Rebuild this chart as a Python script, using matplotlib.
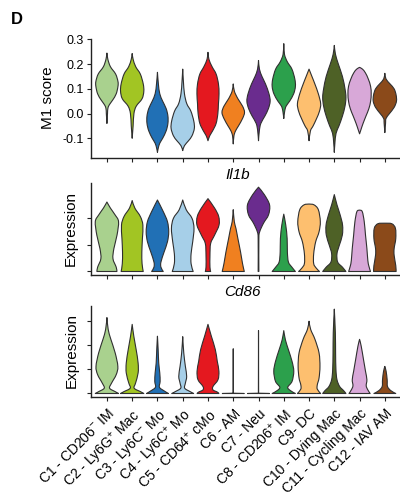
import numpy as np
import matplotlib
matplotlib.use("Agg")
import matplotlib.pyplot as plt
from matplotlib.path import Path
from matplotlib.patches import PathPatch

plt.rcParams['font.family'] = ['Liberation Sans', 'DejaVu Sans']
plt.rcParams['mathtext.fontset'] = 'custom'
plt.rcParams['mathtext.rm'] = 'Liberation Sans'
plt.rcParams['mathtext.it'] = 'Liberation Sans:italic'
plt.rcParams['axes.unicode_minus'] = False

# ---------------- data ----------------
cluster_labels = [r"C1 - CD206$^{-}$ IM", r"C2 - Ly6G$^{+}$ Mac", r"C3 - Ly6C$^{-}$ Mo",
                  r"C4 - Ly6C$^{+}$ Mo", r"C5 - CD64$^{+}$ cMo", "C6 - AM", "C7 - Neu",
                  r"C8 - CD206$^{+}$ IM", "C9- DC", "C10 - Dying Mac",
                  "C11 - Cycling Mac", "C12 - IAV AM"]
cluster_colors = ['#a9d18e', '#a2c523', '#2170b5', '#a6cfe8', '#e4181f', '#f08020',
                  '#6a2c8e', '#2ca04c', '#fdbf6f', '#4e6126', '#d8a8d8', '#8b4a1a']

m1_ticks = [-0.1, 0.0, 0.1, 0.2, 0.3]

# violin profiles: (value, relative density)
m1_profiles = [
    [(0.245, 0), (0.22, 0.08), (0.19, 0.3), (0.16, 0.75), (0.13, 0.95), (0.11, 0.95), (0.08, 0.8), (0.055, 0.5), (0.035, 0.2), (0.02, 0.08), (0.0, 0.05), (-0.04, 0)],
    [(0.243, 0), (0.22, 0.08), (0.19, 0.3), (0.16, 0.7), (0.12, 0.95), (0.09, 1.0), (0.06, 0.85), (0.03, 0.35), (0.0, 0.15), (-0.05, 0.08), (-0.1, 0)],
    [(0.167, 0), (0.12, 0.08), (0.08, 0.2), (0.05, 0.45), (0.02, 0.75), (-0.01, 0.9), (-0.04, 0.9), (-0.07, 0.75), (-0.10, 0.45), (-0.12, 0.2), (-0.14, 0.07), (-0.157, 0)],
    [(0.18, 0), (0.13, 0.06), (0.08, 0.15), (0.04, 0.35), (0.01, 0.7), (-0.03, 0.95), (-0.06, 1.0), (-0.09, 0.8), (-0.11, 0.5), (-0.13, 0.15), (-0.15, 0)],
    [(0.248, 0), (0.22, 0.08), (0.19, 0.35), (0.16, 0.7), (0.12, 0.9), (0.08, 0.95), (0.04, 0.9), (0.0, 0.85), (-0.04, 0.7), (-0.07, 0.4), (-0.09, 0.15), (-0.11, 0)],
    [(0.12, 0), (0.09, 0.1), (0.06, 0.4), (0.03, 0.8), (0.005, 0.97), (-0.02, 0.8), (-0.05, 0.45), (-0.07, 0.2), (-0.09, 0.06), (-0.123, 0)],
    [(0.215, 0), (0.18, 0.08), (0.15, 0.3), (0.12, 0.6), (0.08, 0.9), (0.05, 1.0), (0.02, 0.85), (-0.01, 0.55), (-0.04, 0.2), (-0.07, 0.07), (-0.11, 0)],
    [(0.283, 0), (0.24, 0.06), (0.21, 0.3), (0.18, 0.7), (0.14, 0.95), (0.11, 1.0), (0.08, 0.85), (0.05, 0.5), (0.03, 0.2), (0.01, 0.08), (-0.02, 0)],
    [(0.18, 0), (0.15, 0.25), (0.12, 0.5), (0.08, 0.8), (0.04, 1.0), (0.01, 0.9), (-0.02, 0.65), (-0.05, 0.35), (-0.07, 0.12), (-0.11, 0)],
    [(0.276, 0), (0.24, 0.1), (0.20, 0.35), (0.15, 0.7), (0.10, 0.92), (0.065, 1.0), (0.03, 0.92), (-0.01, 0.7), (-0.05, 0.4), (-0.08, 0.15), (-0.12, 0.05), (-0.157, 0)],
    [(0.187, 0), (0.18, 0.25), (0.165, 0.5), (0.14, 0.75), (0.11, 0.95), (0.08, 1.0), (0.05, 0.95), (0.02, 0.8), (-0.01, 0.55), (-0.04, 0.3), (-0.065, 0.12), (-0.082, 0)],
    [(0.163, 0), (0.14, 0.1), (0.12, 0.45), (0.10, 0.8), (0.075, 0.97), (0.05, 1.0), (0.025, 0.8), (0.0, 0.4), (-0.02, 0.1), (-0.04, 0.06), (-0.077, 0)],
]

il1b_profiles = [
    [(2.575, 0), (2.35, 0.3), (2.1, 0.7), (1.85, 1.0), (1.35, 0.87), (0.85, 0.6), (0.475, 0.52), (0.16, 0.8), (0.0, 0.86)],
    [(2.63, 0), (2.35, 0.23), (2.04, 0.7), (1.72, 0.92), (1.22, 0.88), (0.72, 0.83), (0.29, 0.85), (0.0, 0.95)],
    [(2.65, 0), (2.22, 0.5), (1.85, 0.86), (1.47, 0.97), (1.1, 0.86), (0.72, 0.57), (0.35, 0.3), (0.16, 0.3), (0.0, 0.5)],
    [(2.65, 0), (2.29, 0.3), (1.97, 0.8), (1.6, 0.97), (1.1, 0.86), (0.66, 0.72), (0.29, 0.72), (0.0, 0.9)],
    [(2.7, 0), (2.35, 0.57), (2.04, 0.92), (1.72, 0.95), (1.35, 0.57), (1.04, 0.23), (0.6, 0.17), (0.16, 0.17), (0.0, 0.23)],
    [(2.29, 0), (1.85, 0.09), (1.6, 0.23), (1.22, 0.4), (0.72, 0.63), (0.29, 0.8), (0.0, 0.95)],
    [(3.125, 0), (2.85, 0.5), (2.47, 0.95), (2.1, 0.86), (1.79, 0.43), (1.47, 0.1), (1.2, 0.03), (0.0, 0.03)],
    [(2.125, 0), (1.72, 0.17), (1.22, 0.29), (0.72, 0.31), (0.35, 0.4), (0.16, 0.7), (0.0, 1.0)],
    [(2.5, 0), (2.47, 0.43), (2.29, 0.8), (1.85, 0.97), (1.47, 0.86), (1.1, 0.57), (0.66, 0.4), (0.29, 0.4), (0.12, 0.63), (0.0, 0.9)],
    [(2.85, 0), (2.47, 0.23), (2.1, 0.5), (1.72, 0.71), (1.35, 0.69), (0.97, 0.43), (0.66, 0.23), (0.35, 0.29), (0.16, 0.7), (0.0, 1.0)],
    [(2.275, 0), (2.22, 0.23), (1.85, 0.4), (1.35, 0.51), (0.85, 0.63), (0.41, 0.71), (0.2, 0.8), (0.0, 0.94)],
    [(1.79, 0), (1.77, 0.6), (1.6, 0.91), (1.22, 0.94), (0.85, 0.8), (0.6, 0.8), (0.22, 0.94), (0.0, 0.97)],
]

cd86_profiles = [
    [(3.14, 0), (2.65, 0.11), (2.24, 0.34), (1.68, 0.71), (1.12, 0.94), (0.78, 0.8), (0.43, 0.4), (0.22, 0.23), (0.08, 0.7), (0.0, 1.0)],
    [(2.86, 0), (2.37, 0.14), (1.82, 0.34), (1.26, 0.51), (0.85, 0.51), (0.43, 0.29), (0.22, 0.17), (0.08, 0.7), (0.0, 1.0)],
    [(2.37, 0), (1.82, 0.06), (1.26, 0.11), (0.85, 0.2), (0.5, 0.23), (0.26, 0.17), (0.11, 0.57), (0.0, 0.94)],
    [(2.35, 0), (1.68, 0.09), (1.12, 0.23), (0.71, 0.34), (0.43, 0.23), (0.22, 0.17), (0.08, 0.63), (0.0, 0.94)],
    [(2.86, 0), (2.37, 0.29), (1.82, 0.63), (1.33, 0.8), (0.92, 0.94), (0.57, 0.86), (0.29, 0.43), (0.15, 0.43), (0.06, 0.8), (0.0, 0.94)],
    [(1.85, 0), (0.01, 0.01), (0.0, 0.94)],
    [(2.6, 0), (0.01, 0.01), (0.0, 0.94)],
    [(2.6, 0), (2.22, 0.14), (1.81, 0.4), (1.33, 0.71), (0.92, 0.86), (0.5, 0.71), (0.26, 0.34), (0.12, 0.57), (0.0, 1.0)],
    [(2.99, 0), (2.65, 0.14), (2.24, 0.51), (1.68, 0.86), (1.12, 0.94), (0.64, 0.86), (0.36, 0.71), (0.18, 0.71), (0.0, 1.0)],
    [(3.49, 0), (2.51, 0.09), (1.68, 0.11), (0.99, 0.14), (0.57, 0.23), (0.29, 0.46), (0.12, 0.8), (0.0, 1.0)],
    [(2.24, 0), (1.96, 0.14), (1.4, 0.34), (0.92, 0.51), (0.57, 0.63), (0.32, 0.57), (0.15, 0.71), (0.0, 0.91)],
    [(1.12, 0), (0.92, 0.11), (0.57, 0.2), (0.29, 0.23), (0.12, 0.51), (0.0, 0.94)],
]

# ---------------- drawing ----------------
HALF = 0.46  # max half width in x units
EDGE = '#303030'


def curve_verts(P):
    P = np.asarray(P, dtype=float)
    n = len(P)
    out = []
    if n < 4:
        for i in range(1, n):
            out.append(('L', P[i]))
        return out
    for i in range(n - 1):
        p0 = P[i - 1] if i > 0 else P[i]
        p1, p2 = P[i], P[i + 1]
        p3 = P[i + 2] if i + 2 < n else P[i + 1]
        c1 = p1 + (p2 - p0) / 6.0
        c2 = p2 - (p3 - p1) / 6.0
        out.append(('C', c1, c2, p2))
    return out


def draw_violin(ax, c, prof, color):
    prof = sorted(prof, key=lambda t: t[0])
    right = [(c + HALF * w, y) for y, w in prof]
    left = [(c - HALF * w, y) for y, w in prof[::-1]]
    verts = [right[0]]
    codes = [Path.MOVETO]
    for seg in curve_verts(right):
        if seg[0] == 'L':
            verts.append(seg[1]); codes.append(Path.LINETO)
        else:
            verts += [seg[1], seg[2], seg[3]]; codes += [Path.CURVE4] * 3
    verts.append(left[0]); codes.append(Path.LINETO)
    for seg in curve_verts(left):
        if seg[0] == 'L':
            verts.append(seg[1]); codes.append(Path.LINETO)
        else:
            verts += [seg[1], seg[2], seg[3]]; codes += [Path.CURVE4] * 3
    verts.append(right[0]); codes.append(Path.CLOSEPOLY)
    patch = PathPatch(Path(verts, codes), facecolor=color, edgecolor=EDGE, lw=0.8,
                      joinstyle='round')
    ax.add_patch(patch)


W, H = 400, 498
fig = plt.figure(figsize=(W / 100, H / 100), dpi=100)


def fx(px):
    return px / W


def fy(py):
    return 1 - py / H


left_px, right_px = 91, 400
ax1 = fig.add_axes([fx(left_px), fy(158), fx(right_px - left_px), (158 - 39) / H])
ax2 = fig.add_axes([fx(left_px), fy(275), fx(right_px - left_px), (275 - 183) / H])
ax3 = fig.add_axes([fx(left_px), fy(397), fx(right_px - left_px), (397 - 306) / H])

x = np.arange(len(cluster_labels))
for ax, profiles in [(ax1, m1_profiles), (ax2, il1b_profiles), (ax3, cd86_profiles)]:
    for i, prof in enumerate(profiles):
        draw_violin(ax, x[i], prof, cluster_colors[i])
    ax.set_xlim(-0.63, 11.6)
    for s in ['top', 'right']:
        ax.spines[s].set_visible(False)
    for s in ['left', 'bottom']:
        ax.spines[s].set_linewidth(1.0)
        ax.spines[s].set_color('#222222')
    ax.tick_params(axis='both', length=3, width=0.8, color='#222222', labelsize=9)
    ax.set_xticks(x)

ax1.set_ylim(-0.18, 0.302)
ax1.set_yticks(m1_ticks)
ax1.set_yticklabels([f"{v:.1f}" for v in m1_ticks])
ax1.tick_params(axis='y', pad=2)
ax1.set_xticklabels([])

ax2.set_ylim(-0.13, 3.28)
ax2.set_yticks([0, 1, 2])
ax2.set_yticklabels([])
ax2.set_xticklabels([])

ax3.set_ylim(-0.145, 3.62)
ax3.set_yticks([0, 1, 2, 3])
ax3.set_yticklabels([])
ax3.set_xticklabels(cluster_labels, rotation=45, ha='right', va='top',
                    rotation_mode='anchor', fontsize=10)
ax3.tick_params(axis='x', pad=4)

fig.text(fx(48), fy(98), 'M1 score', rotation=90, ha='center', va='center', fontsize=11)
fig.text(fx(71), fy(229), 'Expression', rotation=90, ha='center', va='center', fontsize=11)
fig.text(fx(72), fy(350), 'Expression', rotation=90, ha='center', va='center', fontsize=11)
fig.text(fx(238), fy(175), 'Il1b', ha='center', va='center', fontsize=11, style='italic')
fig.text(fx(242), fy(292), 'Cd86', ha='center', va='center', fontsize=11, style='italic')
fig.text(fx(17), fy(19), 'D', ha='center', va='center', fontsize=12, fontweight='bold')

fig.savefig('out.png', dpi=100)
